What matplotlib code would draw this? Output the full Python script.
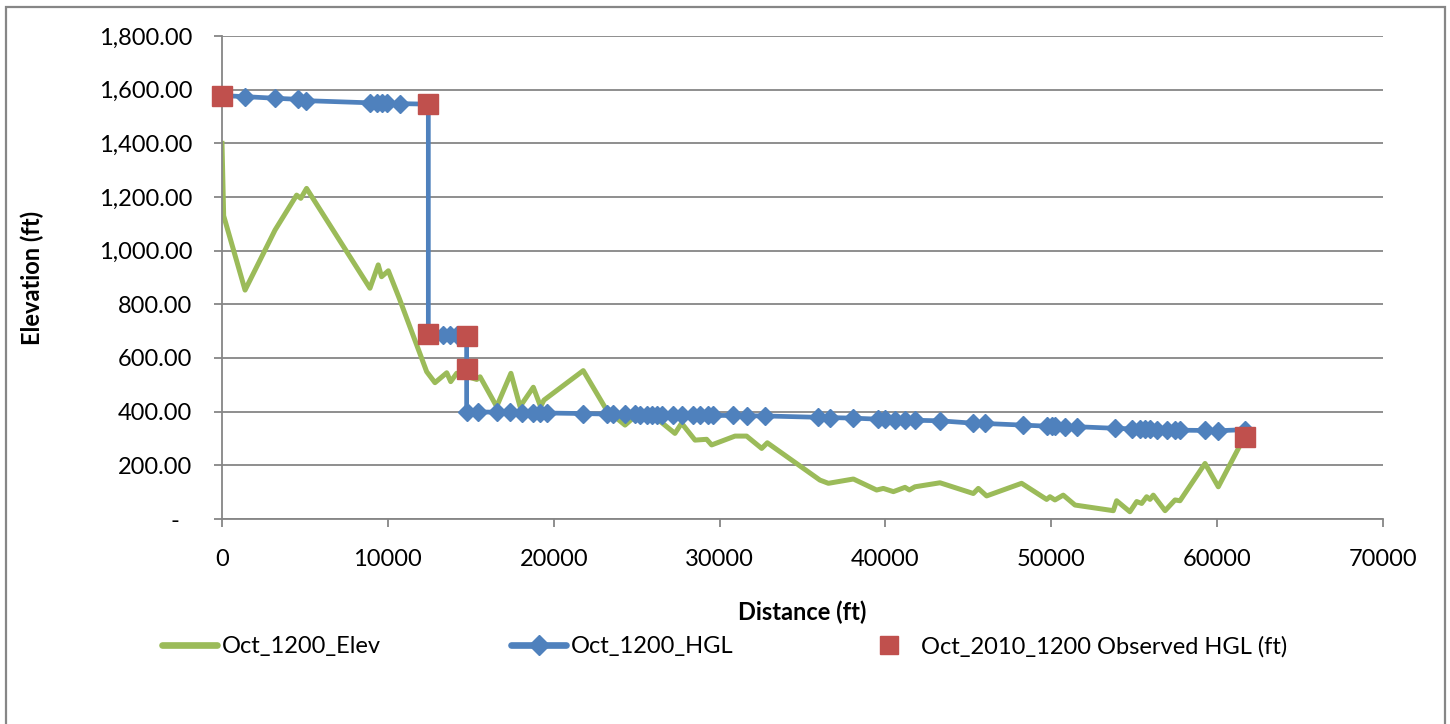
import matplotlib
matplotlib.use("Agg")
import matplotlib.pyplot as plt
from matplotlib.lines import Line2D
from matplotlib.patches import Rectangle
from matplotlib.ticker import FuncFormatter, MultipleLocator

plt.rcParams['font.family'] = ['Lato', 'DejaVu Sans']

# ground profile (Oct_1200_Elev)
elev_x = [0, 100, 1390, 3200, 4500, 4750, 5100, 8920, 9420, 9620,
          10030, 10690, 12340, 12840, 13550, 13790, 14150, 15360, 15560, 16560,
          17420, 17970, 18770, 19210, 19410, 21780, 23190, 24300, 24780, 26000,
          27310, 27710, 28520, 29220, 29520, 30930, 31630, 32540, 32880, 36050,
          36560, 38070, 39470, 39870, 40480, 41180, 41440, 41780, 43290, 45300,
          45600, 46100, 48210, 49720, 49920, 50220, 50720, 51430, 53740, 53940,
          54740, 55150, 55450, 55750, 55950, 56150, 56860, 57460, 57760, 59270,
          60070, 61680]
elev_y = [1400, 1130, 853, 1077, 1207, 1195, 1232, 860, 947, 903,
          925, 822, 549, 508, 545, 512, 543, 520, 530, 419,
          543, 419, 491, 419, 443, 553, 406, 350, 376, 385,
          319, 357, 294, 297, 276, 309, 309, 263, 284, 145,
          133, 149, 108, 114, 102, 118, 108, 120, 135, 95,
          114, 86, 133, 73, 83, 71, 89, 52, 31, 68,
          27, 65, 58, 83, 73, 89, 31, 71, 68, 207,
          120, 310]

# modelled HGL (Oct_1200_HGL)
hgl_x = [0, 1390, 3200, 4600, 5060, 8920, 9320, 9620, 9920, 10730,
         12440, 12440, 13340, 13740, 14150, 14750, 14750, 15460, 16560, 17360,
         18070, 18770, 19170, 19570, 21790, 23190, 23590, 24300, 24900, 25200,
         25610, 25910, 26210, 26510, 27210, 27710, 28410, 28820, 29320, 29620,
         30820, 31630, 32740, 35950, 36660, 38020, 39570, 39970, 40570, 41180,
         41780, 43290, 45300, 46000, 48270, 49720, 50020, 50220, 50820, 51530,
         53840, 54840, 55350, 55650, 55950, 56360, 56960, 57460, 57760, 59270,
         60070, 61680]
hgl_y = [1578, 1574, 1568, 1564, 1559, 1551, 1551, 1550, 1549, 1548,
         1546, 686, 686, 686, 686, 686, 400, 399, 398, 397,
         396, 396, 395, 395, 393, 391, 391, 390, 390, 389,
         389, 389, 388, 388, 388, 388, 387, 387, 387, 386,
         386, 385, 384, 379, 378, 376, 372, 371, 370, 369,
         368, 366, 357, 356, 350, 346, 346, 345, 344, 344,
         338, 336, 335, 335, 334, 333, 332, 332, 331, 330,
         329, 333]

# observed HGL points
obs_x = [0, 12440, 12440, 14750, 14750, 61680]
obs_y = [1576, 1548, 689, 682, 559, 306]

green = '#9BBB59'
blue = '#4F81BD'
red = '#C0504D'
grey = '#868686'
W, H = 1450, 724

fig = plt.figure(figsize=(14.5, 7.24), dpi=100)
ax = fig.add_axes([222 / W, 1 - 519 / H, (1383 - 222) / W, (519 - 36) / H])

ax.plot(elev_x, elev_y, color=green, lw=3.6, zorder=2, solid_joinstyle='round')
ax.plot(hgl_x, hgl_y, color=blue, lw=3.4, marker='D', ms=9.5, mec=blue, zorder=3,
        clip_on=False)
ax.plot(obs_x, obs_y, ls='none', marker='s', ms=14, color=red, mec=red, zorder=4,
        clip_on=False)

ax.set_xlim(0, 70000)
ax.set_ylim(0, 1800)
ax.xaxis.set_major_locator(MultipleLocator(10000))
ax.yaxis.set_major_locator(MultipleLocator(200))
ax.yaxis.set_major_formatter(FuncFormatter(lambda v, p: '-  ' if v == 0 else '{:,.2f}'.format(v)))

ax.grid(axis='y', color=grey, lw=1.3)
ax.set_axisbelow(True)
for s in ['top', 'right']:
    ax.spines[s].set_visible(False)
for s in ['left', 'bottom']:
    ax.spines[s].set_color(grey)
    ax.spines[s].set_linewidth(1.3)
ax.tick_params(axis='y', direction='out', length=5.5, width=1.3, color=grey, pad=16, labelsize=17)
ax.tick_params(axis='x', direction='out', length=5.5, width=1.3, color=grey, pad=16, labelsize=17)

fig.text(32 / W, 1 - 277.5 / H, 'Elevation (ft)', rotation=90, ha='center', va='center',
         fontsize=17, fontweight='bold')
fig.text(802.5 / W, 1 - 612 / H, 'Distance (ft)', ha='center', va='center',
         fontsize=17, fontweight='bold')

# legend entries placed one by one, like the Excel layout
entries = [
    (Line2D([], [], color=green, lw=4.8, solid_capstyle='round'), 'Oct_1200_Elev', 162),
    (Line2D([], [], color=blue, lw=4.8, marker='D', ms=10, solid_capstyle='round'), 'Oct_1200_HGL', 511),
    (Line2D([], [], ls='none', marker='s', ms=13, color=red), 'Oct_2010_1200 Observed HGL (ft)', 861),
]
for h, lab, x0 in entries:
    leg = fig.legend([h], [lab], loc='center left', bbox_to_anchor=(x0 / W, 1 - 647 / H),
                     frameon=False, fontsize=17, handlelength=2.33, handletextpad=0.2,
                     borderpad=0, borderaxespad=0)

fig.patches.append(Rectangle((6 / W, -0.05), (1445 - 6) / W, 1.05 - 6.5 / H,
                             transform=fig.transFigure, fill=False, ec=grey, lw=1.6))

fig.savefig('out.png', dpi=100)
